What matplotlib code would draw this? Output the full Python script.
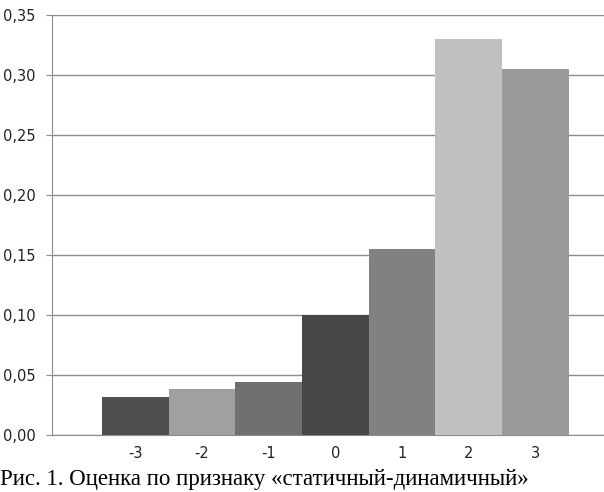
import matplotlib.pyplot as plt
from matplotlib.ticker import FuncFormatter
import numpy as np

# оценки по шкале и доли ответов
cats = ["-3", "-2", "-1", "0", "1", "2", "3"]
vals = [0.032, 0.038, 0.044, 0.100, 0.155, 0.330, 0.305]
colors = ["#4f4f4f", "#a0a0a0", "#707070", "#474747", "#818181", "#c0c0c0", "#9a9a9a"]
yticks = [0.00, 0.05, 0.10, 0.15, 0.20, 0.25, 0.30, 0.35]

fig = plt.figure(figsize=(6.04, 4.92), dpi=100)
ax = fig.add_axes([52 / 604, 1 - 435 / 492, 560 / 604, 420 / 492])

x = np.arange(len(cats))
ax.bar(x, vals, width=1.0, color=colors, zorder=3)

ax.set_xlim(-1.25, 7.15)
ax.set_ylim(0, 0.35)
ax.set_yticks(yticks)
ax.yaxis.set_major_formatter(FuncFormatter(lambda v, p: f"{v:.2f}".replace(".", ",")))
ax.set_xticks(x)
ax.set_xticklabels(cats)

ax.grid(axis="y", color="#8c8c8c", linewidth=1.0, zorder=0)
for s in ["top", "right"]:
    ax.spines[s].set_visible(False)
ax.spines["left"].set_color("#8c8c8c")
ax.spines["bottom"].set_color("#8c8c8c")
ax.tick_params(axis="y", length=4, color="#8c8c8c", labelsize=10.5, pad=8, labelcolor="#222222")
ax.tick_params(axis="x", length=0, labelsize=10.5, pad=8, labelcolor="#222222")

fig.text(0.0, 1 - 485 / 492, "Рис. 1. Оценка по признаку «статичный-динамичный»",
         family="Liberation Serif", fontsize=16.5, ha="left", va="baseline")

fig.savefig("out.png", dpi=100)
